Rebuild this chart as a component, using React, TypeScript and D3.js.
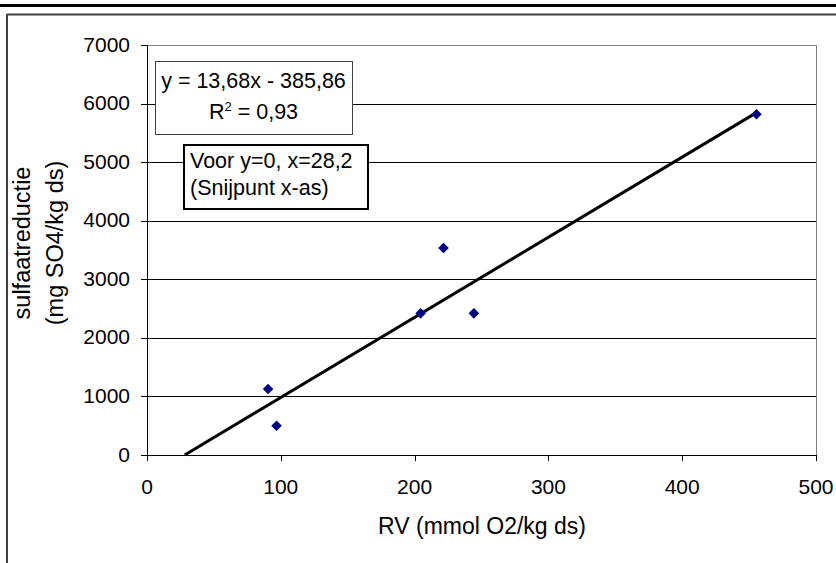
import React from "react";
import * as d3 from "d3";

const rvValues = [90.5, 96.8, 204.5, 221.6, 244.3, 455.5];
const sulfaatValues = [1127, 500, 2419, 3534, 2419, 5817];
const xTicks = [0, 100, 200, 300, 400, 500];
const yTicks = [0, 1000, 2000, 3000, 4000, 5000, 6000, 7000];
const slope = 13.68;
const intercept = -385.86;
const trendRange = [28.2, 455.5];
const eqLines = ["y = 13,68x - 385,86", "R", " = 0,93"];
const noteLines = ["Voor y=0, x=28,2", "(Snijpunt x-as)"];
const xTitle = "RV (mmol O2/kg ds)";
const yTitleLines = ["sulfaatreductie", "(mg SO4/kg ds)"];

const W = 836;
const H = 563;
const FONT = "'Liberation Sans', Arial, sans-serif";

export default function App() {
  const x = d3.scaleLinear().domain([0, 500]).range([147, 816]);
  const y = d3.scaleLinear().domain([0, 7000]).range([455, 45]);
  const trend = d3
    .line<number>()
    .x((d) => x(d))
    .y((d) => y(slope * d + intercept));
  const diamond = d3.symbol().type(d3.symbolDiamond2).size(72)();

  return (
    <svg
      width={W}
      height={H}
      style={{ position: "absolute", left: 0, top: 0, display: "block", background: "#fff" }}
      fontFamily={FONT}
    >
      {/* top thick rule */}
      <line x1={0} x2={W} y1={5.5} y2={5.5} stroke="#000" strokeWidth={3} />
      {/* chart frame */}
      <line x1={7} x2={W} y1={14.5} y2={14.5} stroke="#404040" strokeWidth={2} />
      <line x1={7} x2={7} y1={14} y2={H} stroke="#404040" strokeWidth={2} />

      {/* gridlines */}
      {yTicks
        .filter((t) => t > 0 && t < 7000)
        .map((t) => (
          <line
            key={"g" + t}
            x1={x(0)}
            x2={x(500)}
            y1={Math.round(y(t)) + 0.5}
            y2={Math.round(y(t)) + 0.5}
            stroke="#000"
            strokeWidth={1}
          />
        ))}
      {/* plot border top / right */}
      <line x1={x(0)} x2={x(500)} y1={Math.round(y(7000)) + 0.5} y2={Math.round(y(7000)) + 0.5} stroke="#808080" strokeWidth={1} />
      <line x1={Math.round(x(500)) + 0.5} x2={Math.round(x(500)) + 0.5} y1={y(7000)} y2={y(0)} stroke="#808080" strokeWidth={1} />

      {/* axes */}
      <line x1={Math.round(x(0)) + 0.5} x2={Math.round(x(0)) + 0.5} y1={y(7000)} y2={y(0)} stroke="#000" strokeWidth={1} />
      <line x1={x(0)} x2={x(500)} y1={Math.round(y(0)) + 0.5} y2={Math.round(y(0)) + 0.5} stroke="#000" strokeWidth={1} />
      {yTicks.map((t) => (
        <g key={"yt" + t}>
          <line
            x1={Math.round(x(0)) - 6}
            x2={Math.round(x(0))}
            y1={Math.round(y(t)) + 0.5}
            y2={Math.round(y(t)) + 0.5}
            stroke="#000"
          />
          <text x={130} y={y(t) + 6.5} textAnchor="end" fontSize={21} fill="#000">
            {t}
          </text>
        </g>
      ))}
      {xTicks.map((t) => (
        <g key={"xt" + t}>
          <line
            x1={Math.round(x(t)) + 0.5}
            x2={Math.round(x(t)) + 0.5}
            y1={y(0)}
            y2={y(0) + 6}
            stroke="#000"
          />
          <text x={x(t)} y={494} textAnchor="middle" fontSize={21} fill="#000">
            {t}
          </text>
        </g>
      ))}

      {/* trend line */}
      <path d={trend(trendRange) || ""} fill="none" stroke="#000" strokeWidth={3} />

      {/* points */}
      {rvValues.map((v, i) => (
        <path
          key={"p" + i}
          d={diamond || ""}
          transform={`translate(${x(v)},${y(sulfaatValues[i])})`}
          fill="#000080"
        />
      ))}

      {/* equation box */}
      <rect x={155.5} y={61.5} width={197} height={73} fill="#fff" stroke="#404040" strokeWidth={1} />
      <text x={253.5} y={88} textAnchor="middle" fontSize={21.5} fill="#000">
        {eqLines[0]}
      </text>
      <text x={253.5} y={119} textAnchor="middle" fontSize={21.5} fill="#000">
        {eqLines[1]}
        <tspan dy={-8} fontSize={13}>2</tspan>
        <tspan dy={8}>{eqLines[2]}</tspan>
      </text>

      {/* note box */}
      <rect x={184} y={145} width={184} height={64} fill="#fff" stroke="#000" strokeWidth={2} />
      <text x={190} y={168} fontSize={21.5} fill="#000">
        {noteLines[0]}
      </text>
      <text x={190} y={195} fontSize={21.5} fill="#000">
        {noteLines[1]}
      </text>

      {/* axis titles */}
      <text x={482} y={534} textAnchor="middle" fontSize={23} fill="#000">
        {xTitle}
      </text>
      <text transform="translate(30,243) rotate(-90)" textAnchor="middle" fontSize={23.5} fill="#000">
        {yTitleLines[0]}
      </text>
      <text transform="translate(63,243) rotate(-90)" textAnchor="middle" fontSize={23.5} fill="#000">
        {yTitleLines[1]}
      </text>
    </svg>
  );
}
